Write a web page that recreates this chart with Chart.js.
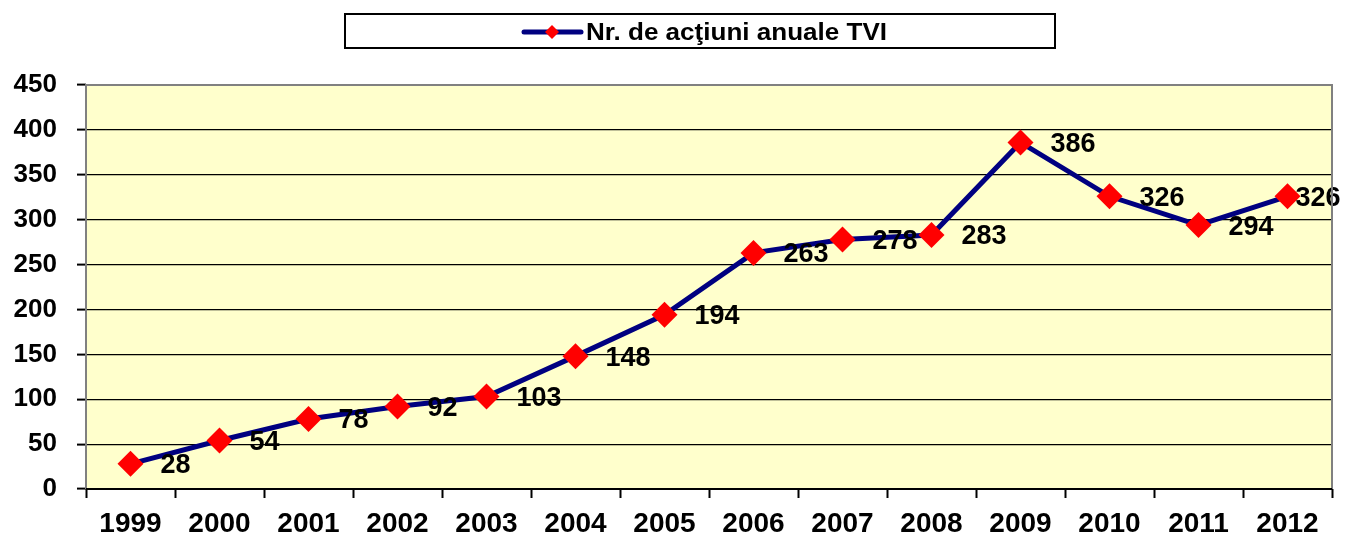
<!DOCTYPE html>
<html>
<head>
<meta charset="utf-8">
<title>Nr. de acţiuni anuale TVI</title>
<script src="https://cdn.jsdelivr.net/npm/chart.js@4"></script>
<style>
    html, body { margin: 0; padding: 0; background: #ffffff; }
    #wrap { width: 1345px; height: 535px; position: relative; }
</style>
</head>
<body>
<div id="wrap"><canvas id="tviChart"></canvas></div>
<script>
// Chart data
const years = ['1999', '2000', '2001', '2002', '2003', '2004', '2005',
               '2006', '2007', '2008', '2009', '2010', '2011', '2012'];
const actions = [28, 54, 78, 92, 103, 148, 194, 263, 278, 283, 386, 326, 294, 326];
const seriesLabel = 'Nr. de acţiuni anuale TVI';
const yTicks = [0, 50, 100, 150, 200, 250, 300, 350, 400, 450];

const FONT = '"Liberation Sans", Arial, sans-serif';
const NAVY = '#000080';
const RED = '#ff0000';

// Yellow plot background + grey frame on top/right/left
const plotFrame = {
    id: 'plotFrame',
    beforeDraw(chart) {
        const { ctx, chartArea: a } = chart;
        ctx.save();
        ctx.fillStyle = '#ffffcc';
        ctx.fillRect(a.left, a.top, a.right - a.left, a.bottom - a.top);
        ctx.restore();
    },
    afterDraw(chart) {
        const { ctx, chartArea: a } = chart;
        ctx.save();
        ctx.strokeStyle = '#808080';
        ctx.lineWidth = 2;
        ctx.beginPath();
        ctx.moveTo(a.left, a.bottom);
        ctx.lineTo(a.left, a.top);
        ctx.lineTo(a.right, a.top);
        ctx.lineTo(a.right, a.bottom);
        ctx.stroke();
        // black baseline
        ctx.strokeStyle = '#000000';
        ctx.beginPath();
        ctx.moveTo(a.left, a.bottom);
        ctx.lineTo(a.right, a.bottom);
        ctx.stroke();
        ctx.restore();
    }
};

// Value labels to the right of each marker
const valueLabels = {
    id: 'valueLabels',
    afterDatasetsDraw(chart) {
        const { ctx } = chart;
        const meta = chart.getDatasetMeta(0);
        ctx.save();
        ctx.font = 'bold 27px ' + FONT;
        ctx.fillStyle = '#000000';
        ctx.textAlign = 'left';
        ctx.textBaseline = 'middle';
        meta.data.forEach((pt, i) => {
            const text = String(actions[i]);
            const w = ctx.measureText(text).width;
            let x = pt.x + 30;
            if (x + w > chart.width) x = pt.x + 8;
            ctx.fillText(text, x, pt.y + 2);
        });
        ctx.restore();
    }
};

// Boxed legend at the top
const boxLegend = {
    id: 'boxLegend',
    afterDraw(chart) {
        const { ctx } = chart;
        const ds = chart.data.datasets[0];
        ctx.save();
        ctx.strokeStyle = '#000000';
        ctx.lineWidth = 2;
        ctx.strokeRect(345, 14, 710, 34);

        const cy = 32;
        ctx.strokeStyle = ds.borderColor;
        ctx.lineWidth = 5;
        ctx.lineCap = 'round';
        ctx.beginPath();
        ctx.moveTo(524, cy);
        ctx.lineTo(581, cy);
        ctx.stroke();

        ctx.fillStyle = ds.pointBackgroundColor;
        ctx.beginPath();
        ctx.moveTo(552, cy - 7);
        ctx.lineTo(559, cy);
        ctx.lineTo(552, cy + 7);
        ctx.lineTo(545, cy);
        ctx.closePath();
        ctx.fill();

        // legend text, stretched a little to the reference width
        ctx.fillStyle = '#000000';
        ctx.font = 'bold 24px ' + FONT;
        ctx.textAlign = 'left';
        ctx.textBaseline = 'middle';
        const w = ctx.measureText(ds.label).width;
        ctx.translate(586, cy + 1);
        ctx.scale(301 / w, 1);
        ctx.fillText(ds.label, 0, 0);
        ctx.restore();
    }
};

const ctx = document.getElementById('tviChart');
new Chart(ctx, {
    type: 'line',
    data: {
        labels: years,
        datasets: [{
            label: seriesLabel,
            data: actions,
            borderColor: NAVY,
            borderWidth: 5,
            pointStyle: 'rectRot',
            pointRadius: 13,
            pointHoverRadius: 13,
            pointBackgroundColor: RED,
            pointBorderColor: RED,
            pointBorderWidth: 0,
            tension: 0,
            clip: false
        }]
    },
    options: {
        responsive: true,
        maintainAspectRatio: false,
        animation: false,
        layout: {
            padding: { top: 85, right: 10, bottom: 0, left: 0 }
        },
        scales: {
            x: {
                offset: true,
                border: { display: false },
                grid: {
                    offset: true,
                    drawOnChartArea: false,
                    drawTicks: true,
                    tickLength: 9,
                    tickWidth: 2,
                    tickColor: '#000000'
                },
                ticks: {
                    color: '#000000',
                    padding: 9,
                    maxRotation: 0,
                    font: { family: FONT, size: 28, weight: 'bold' }
                },
                afterFit(scale) { scale.height = 46; }
            },
            y: {
                min: 0,
                max: 450,
                border: { display: false },
                afterBuildTicks(scale) {
                    scale.ticks = yTicks.map(v => ({ value: v }));
                },
                grid: {
                    color: ctx => (ctx.tick && (ctx.tick.value === 0 || ctx.tick.value === 450)) ? 'rgba(0,0,0,0)' : '#000000',
                    lineWidth: 1.2,
                    tickLength: 9,
                    tickWidth: 2,
                    tickColor: '#000000'
                },
                ticks: {
                    color: '#000000',
                    padding: 20,
                    font: { family: FONT, size: 26, weight: 'bold' }
                },
                afterFit(scale) { scale.width = 86; }
            }
        },
        plugins: {
            legend: { display: false },
            tooltip: { enabled: false }
        }
    },
    plugins: [plotFrame, valueLabels, boxLegend]
});
</script>
</body>
</html>
